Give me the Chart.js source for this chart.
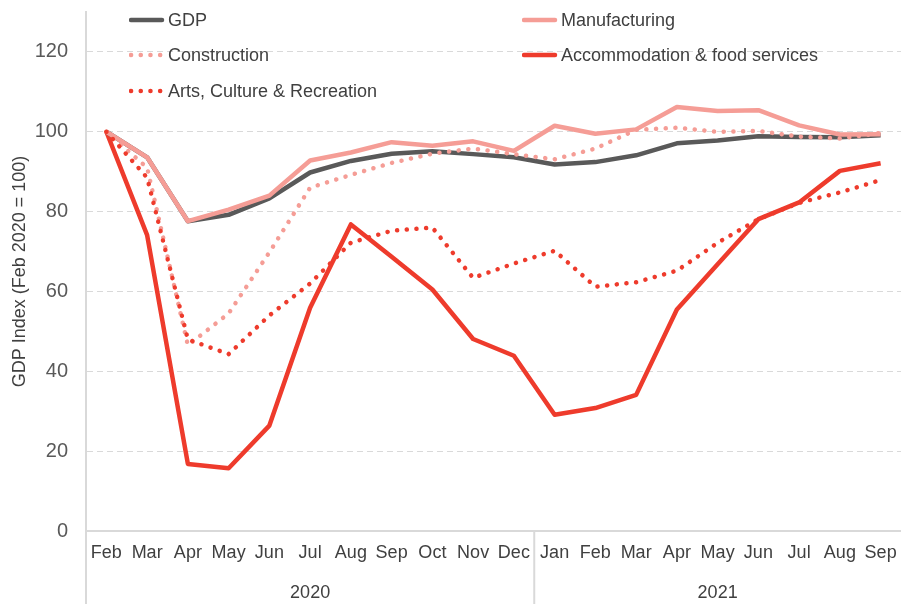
<!DOCTYPE html>
<html>
<head>
<meta charset="utf-8">
<script src="https://cdn.jsdelivr.net/npm/chart.js@4.4.1/dist/chart.umd.min.js"></script>
<style>
  html, body { margin: 0; padding: 0; background: #fff; }
  #wrap { position: relative; width: 901px; height: 604px; font-family: "Liberation Sans", Arial, sans-serif; }
  #legend { position: absolute; left: 0; top: 0; width: 901px; height: 110px; pointer-events: none; }
  .item { position: absolute; height: 24px; display: flex; align-items: center; font-size: 18px; color: #404040; white-space: nowrap; }
  .item svg { margin-right: 3px; }
</style>
</head>
<body>
<div id="wrap">
  <canvas id="grafico"></canvas>
  <div id="legend"></div>
</div>
<script>
// Datos (índice, Feb 2020 = 100)
const meses = ['Feb', 'Mar', 'Apr', 'May', 'Jun', 'Jul', 'Aug', 'Sep', 'Oct', 'Nov', 'Dec',
               'Jan', 'Feb', 'Mar', 'Apr', 'May', 'Jun', 'Jul', 'Aug', 'Sep'];
const anios = ['2020', '2021'];
const mesesPorAnio = [11, 9];

const gdp = [100, 93.6, 77.6, 79.2, 83.3, 89.8, 92.7, 94.5, 95.1, 94.4, 93.6,
             91.8, 92.4, 94.1, 97.1, 97.8, 98.9, 98.7, 98.6, 99.1];
const manufacturing = [100, 93.6, 77.6, 80.5, 84.0, 92.8, 94.8, 97.4, 96.5, 97.6, 95.2,
                       101.5, 99.5, 100.6, 106.2, 105.2, 105.4, 101.6, 99.3, 99.4];
const construction = [100, 91.0, 46.5, 54.5, 69.8, 86.0, 89.2, 92.2, 94.5, 95.8, 94.4,
                      93.1, 95.8, 100.5, 101.0, 100.0, 100.2, 98.8, 98.3, 99.7];
const accommodation = [100, 74.1, 16.8, 15.7, 26.4, 55.9, 76.8, 68.7, 60.5, 48.1, 43.9,
                       29.1, 30.8, 34.1, 55.5, 66.8, 78.1, 82.3, 90.2, 92.1];
const arts = [100, 88.5, 48.0, 44.3, 54.0, 62.0, 72.2, 75.2, 76.0, 63.4, 67.0,
              70.2, 61.2, 62.3, 65.2, 72.2, 78.1, 82.2, 84.8, 87.9];
const yTicks = [0, 20, 40, 60, 80, 100, 120];

const GRIS = '#595959';
const ROSA = '#F59D96';
const ROJO = '#EE3B2C';
const LINEA = '#D9D9D9';
const FUENTE = "'Liberation Sans', Arial, sans-serif";
const ESTRECHA = "'Liberation Sans Narrow', 'Arial Narrow', 'Liberation Sans', sans-serif";

const series = [
  { label: 'GDP', data: gdp, color: GRIS, dotted: false, order: 3, col: 0, row: 0 },
  { label: 'Manufacturing', data: manufacturing, color: ROSA, dotted: false, order: 2, col: 1, row: 0 },
  { label: 'Construction', data: construction, color: ROSA, dotted: true, order: 1, col: 0, row: 1 },
  { label: 'Accommodation & food services', data: accommodation, color: ROJO, dotted: false, order: 4, col: 1, row: 1 },
  { label: 'Arts, Culture & Recreation', data: arts, color: ROJO, dotted: true, order: 0, col: 0, row: 2 }
];

// Leyenda en dos columnas
const legend = document.getElementById('legend');
const colX = [129, 522];
const rowY = [8, 43, 79];
series.forEach(s => {
  const div = document.createElement('div');
  div.className = 'item';
  div.style.left = colX[s.col] + 'px';
  div.style.top = rowY[s.row] + 'px';
  const dash = s.dotted ? 'stroke-dasharray="0.1 9.6"' : '';
  div.innerHTML = '<svg width="36" height="8"><line x1="2" y1="4" x2="33" y2="4" stroke="' + s.color +
    '" stroke-width="4.5" stroke-linecap="round" ' + dash + '/></svg><span>' + s.label + '</span>';
  legend.appendChild(div);
});

// Líneas separadoras del eje x (izquierda y entre años)
const separadores = {
  id: 'separadores',
  afterDraw(chart) {
    const { ctx, chartArea, scales } = chart;
    const x = scales.x;
    ctx.save();
    ctx.strokeStyle = LINEA;
    ctx.lineWidth = 2;
    ctx.beginPath();
    ctx.moveTo(chartArea.left, chartArea.bottom);
    ctx.lineTo(chartArea.left, chart.height);
    const corte = (x.getPixelForValue(mesesPorAnio[0] - 1) + x.getPixelForValue(mesesPorAnio[0])) / 2;
    ctx.moveTo(corte, chartArea.bottom);
    ctx.lineTo(corte, chart.height);
    ctx.stroke();
    ctx.restore();
  }
};

const sinPadding = s => { s.paddingLeft = 0; s.paddingRight = 0; s.paddingTop = 0; s.paddingBottom = 0; };

new Chart(document.getElementById('grafico'), {
  type: 'line',
  data: {
    labels: meses,
    datasets: series.map(s => ({
      label: s.label,
      data: s.data,
      borderColor: s.color,
      backgroundColor: s.color,
      borderWidth: 4.5,
      borderDash: s.dotted ? [0.1, 9.6] : [],
      borderCapStyle: s.dotted ? 'round' : 'butt',
      borderJoinStyle: 'round',
      pointRadius: 0,
      tension: 0,
      order: s.order
    }))
  },
  options: {
    responsive: true,
    maintainAspectRatio: false,
    animation: false,
    layout: { padding: { top: 12, left: 0, right: 0, bottom: 0 } },
    plugins: { legend: { display: false }, tooltip: { enabled: false } },
    scales: {
      y: {
        min: 0,
        max: 130,
        afterBuildTicks: s => { s.ticks = yTicks.map(v => ({ value: v })); },
        afterFit: s => { s.width = 86; sinPadding(s); },
        ticks: { color: GRIS, font: { family: FUENTE, size: 20 }, padding: 18 },
        grid: { color: LINEA, lineWidth: 1, drawTicks: false },
        border: { color: LINEA, width: 2, dash: [6, 4] },
        title: {
          display: true,
          text: 'GDP Index (Feb 2020 = 100)',
          color: '#404040',
          font: { family: FUENTE, size: 18 },
          padding: { top: 9, bottom: 0 }
        }
      },
      x: {
        type: 'category',
        offset: true,
        afterFit: s => { s.height = 40; sinPadding(s); },
        ticks: { color: '#404040', font: { family: ESTRECHA, size: 18 }, padding: 11, autoSkip: false, maxRotation: 0 },
        grid: { display: true, drawOnChartArea: false, drawTicks: false },
        border: { color: LINEA, width: 2 }
      },
      anio: {
        type: 'linear',
        position: 'bottom',
        weight: 1,
        min: -0.5,
        max: meses.length - 0.5,
        afterBuildTicks: s => {
          let inicio = -0.5;
          s.ticks = mesesPorAnio.map(n => {
            const t = { value: inicio + n / 2 };
            inicio += n;
            return t;
          });
        },
        afterFit: s => { s.height = 33; sinPadding(s); },
        ticks: {
          color: '#404040',
          font: { family: ESTRECHA, size: 18 },
          padding: 3,
          autoSkip: false,
          maxRotation: 0,
          callback: (v, i) => anios[i]
        },
        grid: { display: false },
        border: { display: false }
      }
    }
  },
  plugins: [separadores]
});
</script>
</body>
</html>
